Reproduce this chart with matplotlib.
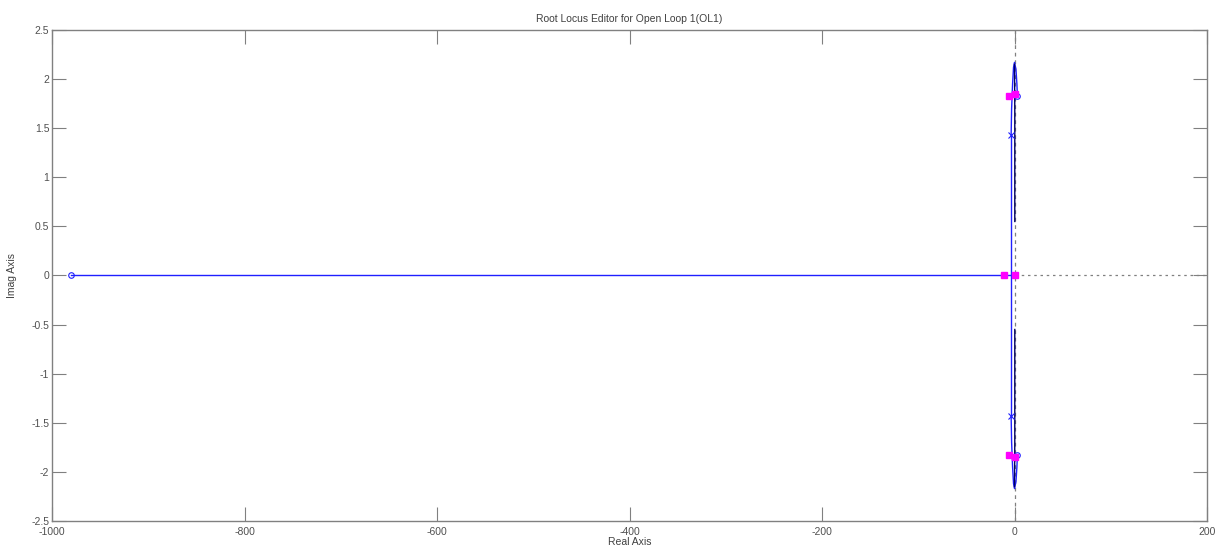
import matplotlib
matplotlib.use('Agg')
import numpy as np
import matplotlib.pyplot as plt

# open loop poles / zeros
ol_pole_re = [-3.5, -3.5]
ol_pole_im = [1.43, -1.43]
ol_zero_re = [-980, 3, 3]
ol_zero_im = [0, 1.83, -1.83]

# closed loop poles (magenta squares)
cl_pole_re = [-11, 0, -5.5, 0.5, -5.5, 0.5]
cl_pole_im = [0, 0, 1.83, 1.85, -1.83, -1.85]

# locus branches
real_branch_re = [-980, 0]
real_branch_im = [0, 0]
vert_branch_re = [-3.5, -3.5]
vert_branch_im = [-1.43, 1.43]
upper_branch_re = [-3.5, -3.0, -2.0, -1.0, 0.0, 1.5, 2.5, 3.0]
upper_branch_im = [1.43, 1.70, 1.95, 2.12, 2.17, 2.10, 1.95, 1.83]
dark_branch_re = [0.3, 0.3, 0.0]
dark_branch_im = [0.55, 1.70, 2.15]

plt.rcParams['font.family'] = ['Liberation Sans', 'DejaVu Sans']
plt.rcParams['axes.unicode_minus'] = False
SMALL = 7.5

fig = plt.figure(figsize=(12.27, 5.53), dpi=100)
ax = fig.add_axes([0.0424, 0.0579, 0.9413, 0.8879])

grey = '#808080'
# axis reference lines
ax.plot([0, 0], [-2.5, 2.5], color=grey, lw=0.9, ls=(0, (3, 3)))
ax.plot([0, 200], [0, 0], color=grey, lw=0.9, ls=(0, (2, 3)))

blue = '#2020ff'
ax.plot(real_branch_re, real_branch_im, color=blue, lw=1)
ax.plot(vert_branch_re, vert_branch_im, color=blue, lw=1)
ax.plot(upper_branch_re, upper_branch_im, color=blue, lw=1)
ax.plot(upper_branch_re, [-v for v in upper_branch_im], color=blue, lw=1)
ax.plot(dark_branch_re, dark_branch_im, color='#000060', lw=1)
ax.plot(dark_branch_re, [-v for v in dark_branch_im], color='#000060', lw=1)

ax.plot(ol_pole_re, ol_pole_im, ls='none', marker='x', ms=4, mew=0.8, color=blue)
ax.plot(ol_zero_re, ol_zero_im, ls='none', marker='o', ms=4, mew=0.8,
        mfc='none', mec=blue)
ax.plot(cl_pole_re, cl_pole_im, ls='none', marker='s', ms=5, color='#ff00ff')

ax.set_xlim(-1000, 200)
ax.set_ylim(-2.5, 2.5)
ax.set_xticks([-1000, -800, -600, -400, -200, 0, 200])
ax.set_yticks(np.arange(-2.5, 2.51, 0.5))
ax.set_yticklabels(['-2.5', '-2', '-1.5', '-1', '-0.5', '0', '0.5', '1', '1.5', '2', '2.5'])

for s in ax.spines.values():
    s.set_color(grey)
    s.set_linewidth(1)
ax.tick_params(direction='in', length=10, width=0.8, color=grey,
               labelsize=SMALL, labelcolor='#505050', top=True, right=True, pad=2)
ax.tick_params(axis='x', pad=4)

ax.set_title('Root Locus Editor for Open Loop 1(OL1)', fontsize=SMALL, color='#404040', pad=6)
ax.set_xlabel('Real Axis', fontsize=SMALL, color='#404040', labelpad=0)
ax.set_ylabel('Imag Axis', fontsize=SMALL, color='#404040', labelpad=10)

fig.savefig('out.png', dpi=100)
